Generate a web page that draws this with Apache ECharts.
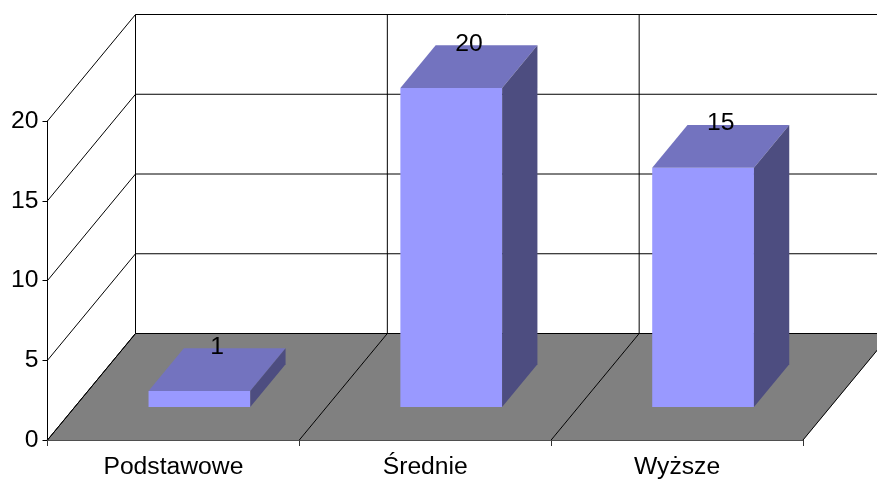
<!DOCTYPE html>
<html>
<head>
<meta charset="utf-8">
<script src="https://cdn.jsdelivr.net/npm/echarts@6/dist/echarts.min.js"></script>
<style>
  html, body { margin: 0; padding: 0; background: #fff; }
  #chart { width: 877px; height: 480px; }
</style>
</head>
<body>
<div id="chart"></div>
<script>
// Education level counts
const categories = ['Podstawowe', 'Średnie', 'Wyższe'];
const values = [1, 20, 15];
const yTicks = [0, 5, 10, 15, 20];

// Oblique 3D projection (pixels)
const DEPTH_X = 88, DEPTH_Y = -106.5;      // full floor depth
const BAR_OFF_X = 26, BAR_OFF_Y = 33;      // bar front face set back from the front plane
const BAR_DX = 35.3, BAR_DY = -42.7;       // bar depth
const BAR_WIDTH_RATIO = 0.404;
const FONT = "'Liberation Sans', Arial, sans-serif";
const FONT_SIZE = 24.7;

const chart = echarts.init(document.getElementById('chart'), null, { renderer: 'canvas' });

// floor section under each category
function renderFloor(params, api) {
  const i = api.value(0);
  const band = api.size([1, 0])[0];
  const c = api.coord([i, 0]);
  const x0 = c[0] - band / 2, x1 = c[0] + band / 2, y = c[1];
  return {
    type: 'polygon',
    shape: { points: [[x0, y], [x1, y], [x1 + DEPTH_X, y + DEPTH_Y], [x0 + DEPTH_X, y + DEPTH_Y]] },
    style: { fill: '#808080', stroke: '#808080', lineWidth: 0.5 }
  };
}

// category boundaries: floor diagonal + back wall vertical
function renderSeparator(params, api) {
  const b = api.value(0);                  // boundary position in category units
  const band = api.size([1, 0])[0];
  const c0 = api.coord([0, 0]);
  const top = api.coord([0, yTicks[yTicks.length - 1]]);
  const x = c0[0] - band / 2 + b * band, y = c0[1];
  return {
    type: 'group',
    children: [
      { type: 'line', shape: { x1: x, y1: y, x2: x + DEPTH_X, y2: y + DEPTH_Y }, style: { stroke: '#000', lineWidth: 1 } },
      { type: 'line', shape: { x1: x + DEPTH_X, y1: y + DEPTH_Y, x2: x + DEPTH_X, y2: top[1] + DEPTH_Y }, style: { stroke: '#000', lineWidth: 1 } }
    ]
  };
}

// value gridlines: side wall diagonal + back wall horizontal
function renderGrid(params, api) {
  const v = api.value(1);
  const cs = params.coordSys;
  const y = api.coord([0, v])[1];
  const x = cs.x;
  return {
    type: 'group',
    children: [
      { type: 'line', shape: { x1: x, y1: y, x2: x + DEPTH_X, y2: y + DEPTH_Y }, style: { stroke: '#000', lineWidth: 1 } },
      { type: 'line', shape: { x1: x + DEPTH_X, y1: y + DEPTH_Y, x2: x + cs.width + DEPTH_X, y2: y + DEPTH_Y }, style: { stroke: '#000', lineWidth: 1 } }
    ]
  };
}

// 3D bar with value label
function renderBar(params, api) {
  const i = api.value(0), v = api.value(1);
  const band = api.size([1, 0])[0];
  const w = band * BAR_WIDTH_RATIO;
  const base = api.coord([i, 0]);
  const top = api.coord([i, v]);
  const xl = base[0] + BAR_OFF_X - w / 2, xr = xl + w;
  const yb = base[1] - BAR_OFF_Y, yt = top[1] - BAR_OFF_Y;
  return {
    type: 'group',
    children: [
      { type: 'rect', shape: { x: xl, y: yt, width: w, height: yb - yt }, style: { fill: '#9999FF' } },
      { type: 'polygon', shape: { points: [[xl, yt], [xr, yt], [xr + BAR_DX, yt + BAR_DY], [xl + BAR_DX, yt + BAR_DY]] }, style: { fill: '#7373BF' } },
      { type: 'polygon', shape: { points: [[xr, yt], [xr + BAR_DX, yt + BAR_DY], [xr + BAR_DX, yb + BAR_DY], [xr, yb]] }, style: { fill: '#4D4D80' } },
      { type: 'text', x: (xl + xr) / 2 + BAR_DX / 2, y: yt + BAR_DY - 1.5,
        style: { text: String(v), fill: '#000', font: FONT_SIZE + 'px ' + FONT, align: 'center', verticalAlign: 'middle' } }
    ]
  };
}

chart.setOption({
  animation: false,
  backgroundColor: '#fff',
  grid: { left: 47.5, right: 74, top: 121, bottom: 40 },
  xAxis: {
    type: 'category',
    data: categories,
    boundaryGap: true,
    axisLine: { show: true, lineStyle: { color: '#000', width: 1.5 } },
    axisTick: { show: true, length: 6, lineStyle: { color: '#333', width: 1 } },
    axisLabel: { color: '#000', fontSize: FONT_SIZE, fontFamily: FONT, margin: 15 },
    splitLine: { show: false }
  },
  yAxis: {
    type: 'value',
    min: 0, max: 20, interval: 5,
    axisLine: { show: true, lineStyle: { color: '#000', width: 1 } },
    axisTick: { show: true, length: 5, lineStyle: { color: '#000', width: 1 } },
    axisLabel: { color: '#000', fontSize: FONT_SIZE, fontFamily: FONT, margin: 9 },
    splitLine: { show: false }
  },
  series: [
    { type: 'custom', z: 1, renderItem: renderFloor, clip: false,
      encode: { x: 0, y: 1 }, data: categories.map((c, i) => [i, 0]) },
    { type: 'custom', z: 2, renderItem: renderGrid, clip: false,
      encode: { x: 0, y: 1 }, data: yTicks.map(v => [0, v]) },
    { type: 'custom', z: 3, renderItem: renderSeparator, clip: false,
      encode: { x: 0, y: 1 }, data: [0, 1, 2, 3].map(b => [b, 0]) },
    { type: 'custom', z: 4, renderItem: renderBar, clip: false,
      encode: { x: 0, y: 1 }, data: categories.map((c, i) => [i, values[i]]) }
  ]
});
</script>
</body>
</html>
